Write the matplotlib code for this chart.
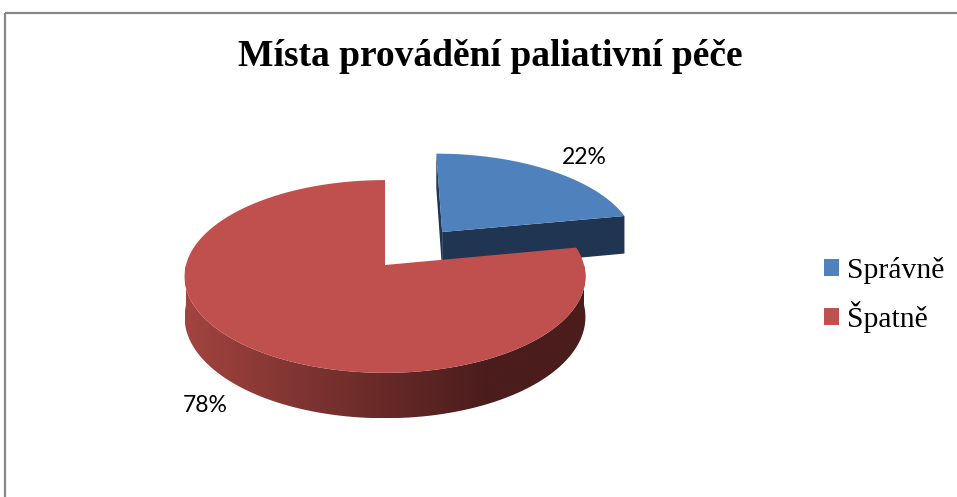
import numpy as np
import matplotlib
matplotlib.use("Agg")
import matplotlib.pyplot as plt
from matplotlib.patches import Polygon, Patch, Rectangle
from matplotlib.colors import to_rgb

# ---------------------- Data ---------------------- #
labels = ["Správně", "Špatně"]
shares = [22, 78]
pct_labels = ["22%", "78%"]
top_colors = ["#4F81BD", "#C0504D"]
explode = [0.47, 0.0]

# ---------------------- Layout (pixels) ---------------------- #
W, H = 957, 497
CX, CY = 385, 265        # pie centre
A, B = 199, 95           # ellipse half axes
K = 0.119                # perspective factor
DEPTH = 40               # thickness of the pie


def proj(u, v, z=0.0):
    """ Disc coordinates (u right, v back) -> screen pixels. """
    w = 1 + K * v
    return CX + A * u / w, CY - B * v / w + DEPTH * z / w


def mix(c1, c2, t):
    c1, c2 = np.array(to_rgb(c1)), np.array(to_rgb(c2))
    return c1 + (c2 - c1) * t


fig = plt.figure(figsize=(W / 100, H / 100), dpi=100)
ax = fig.add_axes([0, 0, 1, 1])
ax.set_xlim(0, W)
ax.set_ylim(H, 0)
ax.axis("off")

# outer chart frame (cut off at right/bottom like the screenshot)
ax.add_patch(Rectangle((5, 13), 1200, 1200, fill=False, edgecolor="#878787", lw=1.6))

# shading for the curved side: light red on the left, dark on the right
gx = np.linspace(0, 1, 400)
grad = np.array([mix("#A3443F", "#4B1D1D", min(s / 0.75, 1) ** 0.95) for s in gx])
grad = grad[np.newaxis, :, :]

# slice angles, clockwise from 12 o'clock
fracs = np.array(shares) / sum(shares)
starts = np.concatenate([[0], np.cumsum(fracs)[:-1]]) * 360
ends = np.cumsum(fracs) * 360

side_dark = ["#1F3552", None]

for i in range(len(shares)):
    t0, t1 = np.radians(starts[i]), np.radians(ends[i])
    mid = (t0 + t1) / 2
    ou, ov = explode[i] * np.sin(mid), explode[i] * np.cos(mid)
    th = np.linspace(t0, t1, 300)
    rim_u, rim_v = ou + np.sin(th), ov + np.cos(th)

    # radial faces of the exploded slice
    if side_dark[i]:
        for t in (t0, t1):
            eu, ev = ou + np.sin(t), ov + np.cos(t)
            pts = [proj(ou, ov, 0), proj(eu, ev, 0), proj(eu, ev, 1), proj(ou, ov, 1)]
            ax.add_patch(Polygon(pts, closed=True, fc=side_dark[i], ec="none"))

    # outer curved side, front half only
    lo, hi = max(t0, np.pi / 2), min(t1, 3 * np.pi / 2)
    if hi > lo:
        ts = np.linspace(lo, hi, 300)
        top = [proj(ou + np.sin(t), ov + np.cos(t), 0) for t in ts]
        bot = [proj(ou + np.sin(t), ov + np.cos(t), 1) for t in ts[::-1]]
        side = Polygon(top + bot, closed=True, fc="none", ec="none")
        ax.add_patch(side)
        xs = [p[0] for p in top]
        ys = [p[1] for p in top + bot]
        im = ax.imshow(grad, extent=(min(xs), max(xs), max(ys), min(ys)),
                       aspect="auto", interpolation="bilinear")
        im.set_clip_path(side)

    # top face
    pts = [proj(ou, ov, 0)] + [proj(u, v, 0) for u, v in zip(rim_u, rim_v)]
    ax.add_patch(Polygon(pts, closed=True, fc=top_colors[i], ec="none"))

ax.set_xlim(0, W)
ax.set_ylim(H, 0)

# percentage labels
ax.text(584, 158, pct_labels[0], fontsize=16.5, family="Lato",
        ha="center", va="center", color="black")
ax.text(205, 406, pct_labels[1], fontsize=16.5, family="Lato",
        ha="center", va="center", color="black")

# title
ax.text(490, 57, "Místa provádění paliativní péče", fontsize=27, fontweight="bold",
        family="Liberation Serif", ha="center", va="center")

# legend
handles = [Patch(fc=c, ec="none") for c in top_colors]
ax.legend(handles, labels, loc="center left", bbox_to_anchor=(824 / W, 1 - 295 / H),
          frameon=False, prop={"family": "Liberation Serif", "size": 21.3},
          handlelength=0.52, handleheight=0.52, handletextpad=0.27,
          labelspacing=0.58, borderpad=0, borderaxespad=0)

fig.savefig("out.png", dpi=100)
